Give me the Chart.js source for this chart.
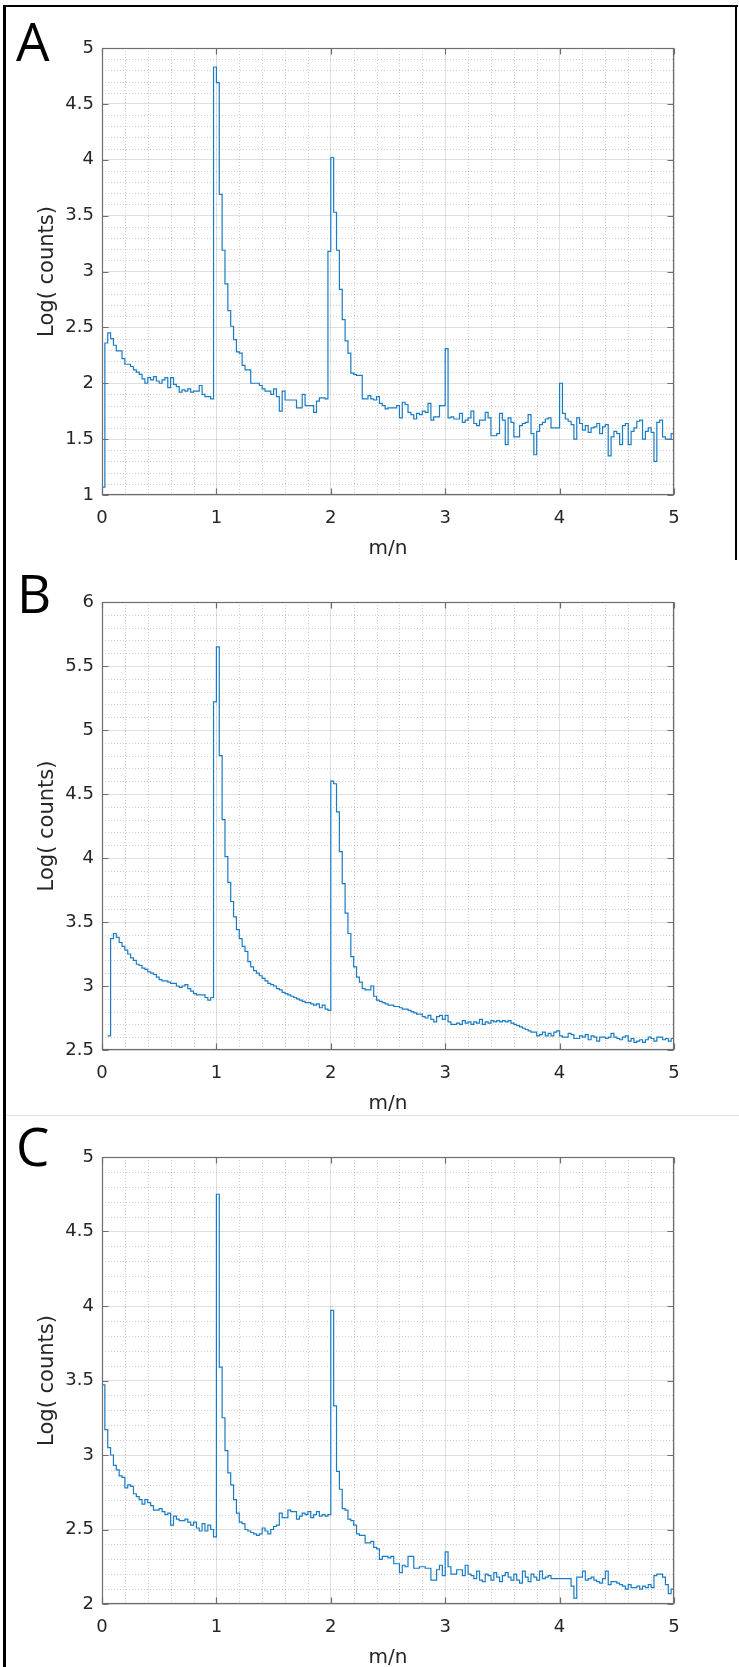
<!DOCTYPE html>
<html>
<head>
<meta charset="utf-8">
<script src="https://cdn.jsdelivr.net/npm/chart.js@4.4.1/dist/chart.umd.min.js"></script>
<style>
  html, body { margin: 0; padding: 0; background: #fff; width: 739px; height: 1667px; overflow: hidden; }
  canvas { position: absolute; left: 0; }
  .bar { position: absolute; background: #000; }
  .letter { position: absolute; font-family: 'Open Sans', sans-serif; font-size: 53px; line-height: 53px; color: #000; }
</style>
</head>
<body>
<div class="bar" style="left:3px;top:5px;width:3px;height:1662px"></div>
<div class="bar" style="left:3px;top:5px;width:735px;height:2px"></div>
<div class="bar" style="left:735px;top:5px;width:2px;height:555px"></div>
<div style="position:absolute;left:6px;top:1115px;width:733px;height:1px;background:#e2e2e2"></div>

<canvas id="chartA" width="739" height="565" style="top:0px;width:739px;height:565px"></canvas>
<canvas id="chartB" width="739" height="560" style="top:560px;width:739px;height:560px"></canvas>
<canvas id="chartC" width="739" height="570" style="top:1110px;width:739px;height:570px"></canvas>

<div class="letter" style="left:16px;top:14px">A</div>
<div class="letter" style="left:17px;top:566px">B</div>
<div class="letter" style="left:16px;top:1119px">C</div>

<script>
// ---------------- data ----------------
const binWidth = 0.025;           // histogram bin width in m/n
const xTicks = [0, 1, 2, 3, 4, 5];
const xTickLabels = ['0', '1', '2', '3', '4', '5'];

const yTicksA = [1, 1.5, 2, 2.5, 3, 3.5, 4, 4.5, 5];
const yTickLabelsA = ['1', '1.5', '2', '2.5', '3', '3.5', '4', '4.5', '5'];
const yTicksB = [2.5, 3, 3.5, 4, 4.5, 5, 5.5, 6];
const yTickLabelsB = ['2.5', '3', '3.5', '4', '4.5', '5', '5.5', '6'];
const yTicksC = [2, 2.5, 3, 3.5, 4, 4.5, 5];
const yTickLabelsC = ['2', '2.5', '3', '3.5', '4', '4.5', '5'];

const valuesA = [
  1.07, 2.36, 2.45, 2.40, 2.34, 2.29, 2.29, 2.22, 2.17, 2.17,
  2.15, 2.12, 2.10, 2.08, 2.04, 2.00, 2.05, 2.03, 2.06, 2.02,
  2.00, 2.03, 2.05, 1.96, 2.05, 1.99, 1.97, 1.92, 1.94, 1.93,
  1.95, 1.92, 1.93, 1.93, 1.98, 1.90, 1.88, 1.88, 1.86, 4.83,
  4.69, 3.69, 3.19, 2.89, 2.65, 2.51, 2.39, 2.28, 2.27, 2.16,
  2.12, 2.12, 2.00, 2.00, 2.00, 1.98, 1.95, 1.93, 1.93, 1.90,
  1.95, 1.88, 1.75, 1.93, 1.85, 1.85, 1.85, 1.85, 1.78, 1.78,
  1.90, 1.80, 1.80, 1.80, 1.74, 1.84, 1.87, 1.87, 1.86, 3.18,
  4.02, 3.53, 3.19, 2.84, 2.57, 2.38, 2.27, 2.09, 2.08, 2.07,
  2.07, 1.86, 1.86, 1.89, 1.86, 1.85, 1.88, 1.82, 1.80, 1.77,
  1.78, 1.78, 1.78, 1.80, 1.69, 1.83, 1.81, 1.74, 1.72, 1.68,
  1.73, 1.72, 1.75, 1.74, 1.82, 1.67, 1.70, 1.70, 1.80, 1.80,
  2.31, 1.69, 1.70, 1.68, 1.68, 1.73, 1.65, 1.67, 1.69, 1.75,
  1.64, 1.62, 1.67, 1.67, 1.74, 1.69, 1.53, 1.53, 1.55, 1.73,
  1.67, 1.45, 1.69, 1.65, 1.52, 1.52, 1.62, 1.64, 1.65, 1.72,
  1.55, 1.36, 1.57, 1.63, 1.65, 1.68, 1.69, 1.60, 1.60, 1.60,
  2.00, 1.73, 1.68, 1.66, 1.63, 1.50, 1.69, 1.64, 1.58, 1.62,
  1.56, 1.60, 1.61, 1.64, 1.55, 1.61, 1.63, 1.35, 1.52, 1.57,
  1.55, 1.45, 1.62, 1.64, 1.45, 1.57, 1.60, 1.66, 1.67, 1.50,
  1.57, 1.60, 1.56, 1.30, 1.65, 1.67, 1.52, 1.50, 1.50, 1.55
];

const valuesB = [
  null, null, 2.61, 3.37, 3.41, 3.38, 3.34, 3.31, 3.28, 3.25,
  3.22, 3.20, 3.17, 3.16, 3.14, 3.13, 3.11, 3.10, 3.09, 3.07,
  3.05, 3.04, 3.04, 3.03, 3.02, 3.02, 3.00, 2.99, 3.00, 3.01,
  2.98, 2.96, 2.94, 2.93, 2.93, 2.93, 2.91, 2.89, 2.91, 5.22,
  5.65, 4.80, 4.30, 4.01, 3.81, 3.66, 3.54, 3.44, 3.37, 3.31,
  3.27, 3.19, 3.15, 3.12, 3.10, 3.08, 3.06, 3.04, 3.02, 3.01,
  3.00, 2.98, 2.97, 2.95, 2.94, 2.93, 2.92, 2.91, 2.90, 2.89,
  2.88, 2.87, 2.87, 2.86, 2.85, 2.86, 2.83, 2.85, 2.82, 2.81,
  4.60, 4.58, 4.36, 4.05, 3.80, 3.57, 3.41, 3.23, 3.15, 3.07,
  3.03, 2.98, 2.97, 2.97, 3.00, 2.92, 2.89, 2.88, 2.87, 2.86,
  2.85, 2.85, 2.84, 2.84, 2.83, 2.82, 2.82, 2.81, 2.80, 2.79,
  2.78, 2.78, 2.76, 2.75, 2.77, 2.74, 2.72, 2.76, 2.77, 2.74,
  2.77, 2.72, 2.70, 2.70, 2.71, 2.70, 2.73, 2.71, 2.72, 2.70,
  2.72, 2.71, 2.74, 2.70, 2.72, 2.71, 2.73, 2.72, 2.73, 2.72,
  2.73, 2.72, 2.73, 2.71, 2.70, 2.69, 2.68, 2.67, 2.66, 2.65,
  2.64, 2.64, 2.61, 2.62, 2.64, 2.61, 2.63, 2.61, 2.64, 2.65,
  2.61, 2.60, 2.60, 2.63, 2.62, 2.59, 2.59, 2.61, 2.60, 2.62,
  2.58, 2.61, 2.60, 2.57, 2.60, 2.60, 2.59, 2.60, 2.63, 2.60,
  2.59, 2.58, 2.60, 2.61, 2.57, 2.59, 2.56, 2.57, 2.58, 2.56,
  2.58, 2.60, 2.59, 2.57, 2.60, 2.60, 2.58, 2.59, 2.57, 2.59
];

const valuesC = [
  3.47, 3.17, 3.05, 3.00, 2.93, 2.90, 2.86, 2.85, 2.78, 2.80,
  2.79, 2.74, 2.72, 2.70, 2.67, 2.70, 2.68, 2.66, 2.63, 2.63,
  2.64, 2.62, 2.60, 2.61, 2.53, 2.59, 2.57, 2.56, 2.56, 2.57,
  2.55, 2.53, 2.55, 2.51, 2.49, 2.54, 2.49, 2.53, 2.50, 2.45,
  4.75, 3.59, 3.25, 3.03, 2.88, 2.80, 2.70, 2.61, 2.55, 2.54,
  2.50, 2.49, 2.48, 2.47, 2.46, 2.47, 2.51, 2.49, 2.47, 2.50,
  2.52, 2.53, 2.61, 2.58, 2.58, 2.63, 2.62, 2.62, 2.57, 2.59,
  2.61, 2.60, 2.62, 2.58, 2.60, 2.62, 2.59, 2.60, 2.59, 2.60,
  3.97, 3.33, 2.89, 2.77, 2.64, 2.63, 2.57, 2.56, 2.53, 2.47,
  2.46, 2.46, 2.41, 2.41, 2.42, 2.38, 2.37, 2.30, 2.32, 2.32,
  2.31, 2.32, 2.27, 2.27, 2.21, 2.26, 2.25, 2.32, 2.32, 2.24,
  2.24, 2.25, 2.25, 2.24, 2.24, 2.16, 2.16, 2.23, 2.26, 2.19,
  2.35, 2.25, 2.20, 2.20, 2.23, 2.23, 2.19, 2.26, 2.20, 2.19,
  2.17, 2.22, 2.16, 2.15, 2.20, 2.19, 2.16, 2.21, 2.18, 2.15,
  2.19, 2.21, 2.18, 2.16, 2.20, 2.16, 2.14, 2.22, 2.18, 2.15,
  2.20, 2.18, 2.16, 2.22, 2.17, 2.18, 2.19, 2.17, 2.17, 2.17,
  2.17, 2.17, 2.17, 2.17, 2.12, 2.04, 2.18, 2.18, 2.22, 2.16,
  2.17, 2.18, 2.16, 2.15, 2.14, 2.17, 2.22, 2.13, 2.15, 2.15,
  2.14, 2.13, 2.12, 2.10, 2.13, 2.11, 2.11, 2.12, 2.10, 2.12,
  2.11, 2.13, 2.11, 2.19, 2.20, 2.20, 2.18, 2.13, 2.07, 2.10
];

// ---------------- styling ----------------
const FONT = "'DejaVu Sans', 'Liberation Sans', sans-serif";
const TEXT_COLOR = '#262626';
const MAJOR_GRID = 'rgba(38,38,38,0.15)';
const MINOR_GRID = 'rgba(38,38,38,0.22)';
const BOX_COLOR = '#6e6e6e';
const LINE_COLOR = '#1a7cc6';
const xMinorStep = 0.2;
const yMinorStep = 0.1;

function isMajor(v, ticks) {
  return ticks.some(t => Math.abs(t - v) < 1e-6);
}

const matlabAxes = {
  id: 'matlabAxes',
  beforeDatasetsDraw(chart, args, opts) {
    const { ctx, chartArea: a, scales: { x, y } } = chart;
    ctx.save();
    ctx.strokeStyle = MINOR_GRID;
    ctx.lineWidth = 1;
    ctx.setLineDash([1, 2]);
    const nx = Math.round((x.max - x.min) / xMinorStep);
    for (let i = 1; i < nx; i++) {
      const v = x.min + i * xMinorStep;
      if (isMajor(v, opts.xTicks)) continue;
      const px = Math.round(x.getPixelForValue(v)) + 0.5;
      ctx.beginPath(); ctx.moveTo(px, a.top); ctx.lineTo(px, a.bottom); ctx.stroke();
    }
    const ny = Math.round((y.max - y.min) / yMinorStep);
    for (let i = 1; i < ny; i++) {
      const v = y.min + i * yMinorStep;
      if (isMajor(v, opts.yTicks)) continue;
      const py = Math.round(y.getPixelForValue(v)) + 0.5;
      ctx.beginPath(); ctx.moveTo(a.left, py); ctx.lineTo(a.right, py); ctx.stroke();
    }
    ctx.restore();
  },
  afterDatasetsDraw(chart, args, opts) {
    const { ctx, chartArea: a, scales: { x, y } } = chart;
    ctx.save();
    ctx.setLineDash([]);
    ctx.strokeStyle = BOX_COLOR;
    ctx.lineWidth = 1.2;
    const L = Math.round(a.left) + 0.5, R = Math.round(a.right) - 0.5;
    const T = Math.round(a.top) + 0.5, B = Math.round(a.bottom) - 0.5;
    ctx.strokeRect(L, T, R - L, B - T);
    const tl = 6;
    ctx.beginPath();
    opts.xTicks.forEach(v => {
      const px = Math.round(x.getPixelForValue(v)) + 0.5;
      ctx.moveTo(px, B); ctx.lineTo(px, B - tl);
      ctx.moveTo(px, T); ctx.lineTo(px, T + tl);
    });
    opts.yTicks.forEach(v => {
      const py = Math.round(y.getPixelForValue(v)) + 0.5;
      ctx.moveTo(L, py); ctx.lineTo(L + tl, py);
      ctx.moveTo(R, py); ctx.lineTo(R - tl, py);
    });
    ctx.stroke();
    ctx.restore();
  }
};

function makePanel(id, values, yTicks, yLabels, plotTop, plotBottom, canvasH) {
  const points = values.map((v, i) => ({ x: i * binWidth, y: v }));
  points.push({ x: values.length * binWidth, y: values[values.length - 1] });
  const xAxisH = 66;
  new Chart(document.getElementById(id), {
    type: 'line',
    data: {
      datasets: [{
        data: points,
        borderColor: LINE_COLOR,
        borderWidth: 1.2,
        stepped: true,
        pointRadius: 0,
        fill: false,
        spanGaps: false
      }]
    },
    options: {
      responsive: false,
      animation: false,
      devicePixelRatio: 1,
      layout: { padding: { left: 0, right: 65, top: plotTop, bottom: canvasH - plotBottom - xAxisH } },
      plugins: {
        legend: { display: false },
        tooltip: { enabled: false },
        matlabAxes: { xTicks: xTicks, yTicks: yTicks }
      },
      scales: {
        x: {
          type: 'linear',
          min: xTicks[0],
          max: xTicks[xTicks.length - 1],
          afterBuildTicks: s => { s.ticks = xTicks.map(v => ({ value: v })); },
          afterFit: s => { s.height = xAxisH; },
          grid: { color: MAJOR_GRID, lineWidth: 1, drawTicks: false },
          border: { display: false },
          ticks: {
            autoSkip: false, maxRotation: 0, padding: 13,
            color: TEXT_COLOR, font: { family: FONT, size: 18 },
            callback: (v, i) => xTickLabels[i]
          },
          title: {
            display: true, text: 'm/n', color: TEXT_COLOR,
            font: { family: FONT, size: 20 }, padding: { top: 0, bottom: 0 }
          }
        },
        y: {
          type: 'linear',
          min: yTicks[0],
          max: yTicks[yTicks.length - 1],
          afterBuildTicks: s => { s.ticks = yTicks.map(v => ({ value: v })); },
          afterFit: s => { s.width = 102; },
          grid: { color: MAJOR_GRID, lineWidth: 1, drawTicks: false },
          border: { display: false },
          ticks: {
            autoSkip: false, padding: 8,
            color: TEXT_COLOR, font: { family: FONT, size: 18 },
            callback: (v, i) => yLabels[i]
          },
          title: {
            display: true, text: 'Log( counts)', color: TEXT_COLOR,
            font: { family: FONT, size: 21 }, padding: { top: 35, bottom: 0 }
          }
        }
      }
    },
    plugins: [matlabAxes]
  });
}

makePanel('chartA', valuesA, yTicksA, yTickLabelsA, 48, 495, 565);
makePanel('chartB', valuesB, yTicksB, yTickLabelsB, 42, 490, 560);
makePanel('chartC', valuesC, yTicksC, yTickLabelsC, 47, 494, 570);
</script>
</body>
</html>
